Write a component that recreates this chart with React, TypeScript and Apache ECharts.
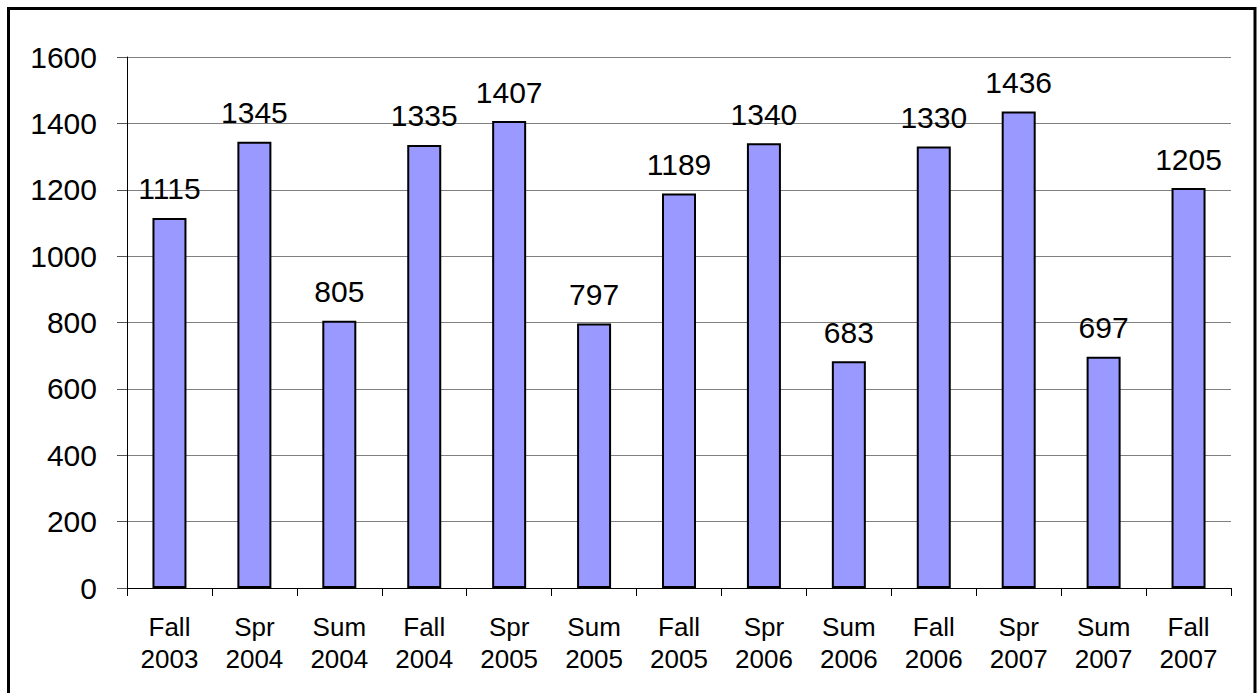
import React, { useEffect, useRef } from "react";
import * as echarts from "echarts";

const categories = [
  "Fall\n2003", "Spr\n2004", "Sum\n2004", "Fall\n2004", "Spr\n2005", "Sum\n2005", "Fall\n2005",
  "Spr\n2006", "Sum\n2006", "Fall\n2006", "Spr\n2007", "Sum\n2007", "Fall\n2007",
];
const values = [1115, 1345, 805, 1335, 1407, 797, 1189, 1340, 683, 1330, 1436, 697, 1205];
const yMin = 0;
const yMax = 1600;
const yStep = 200;

export default function App() {
  const ref = useRef<HTMLDivElement>(null);
  useEffect(() => {
    document.body.style.margin = "0";
    const chart = echarts.init(ref.current!, undefined, { renderer: "svg" });
    chart.setOption({
      animation: false,
      backgroundColor: "#ffffff",
      textStyle: { fontFamily: "Liberation Sans, Arial, sans-serif" },
      grid: { left: 127, right: 26, top: 57, bottom: 105, containLabel: false },
      graphic: [
        {
          type: "rect",
          shape: { x: 8.5, y: 8.5, width: 1246.5, height: 700 },
          style: { fill: "none", stroke: "#000", lineWidth: 3 },
          z: 100,
        },
      ],
      xAxis: {
        type: "category",
        data: categories,
        boundaryGap: true,
        axisLine: { lineStyle: { color: "#000", width: 1 } },
        axisTick: { show: true, length: 8, alignWithLabel: false, lineStyle: { color: "#000" } },
        axisLabel: {
          color: "#000",
          fontSize: 26,
          lineHeight: 32,
          margin: 23,
          interval: 0,
          fontFamily: "Liberation Sans, Arial, sans-serif",
        },
      },
      yAxis: {
        type: "value",
        min: yMin,
        max: yMax,
        interval: yStep,
        axisLine: { show: true, lineStyle: { color: "#000", width: 1 } },
        axisTick: { show: true, length: 10, lineStyle: { color: "#555" } },
        splitLine: { show: true, lineStyle: { color: "#808080", width: 1 } },
        axisLabel: {
          color: "#000",
          fontSize: 30,
          margin: 30,
          formatter: (v: number) => String(v),
          fontFamily: "Liberation Sans, Arial, sans-serif",
        },
      },
      series: [
        {
          type: "bar",
          data: values,
          barWidth: 34,
          itemStyle: { color: "#9999FF", borderColor: "#000", borderWidth: 2 },
          label: {
            show: true,
            position: "top",
            distance: 14,
            color: "#000",
            fontSize: 30,
            fontFamily: "Liberation Sans, Arial, sans-serif",
          },
        },
      ],
    });
    return () => chart.dispose();
  }, []);
  return (
    <div
      ref={ref}
      style={{ position: "absolute", left: 0, top: 0, width: 1257, height: 693 }}
    />
  );
}
